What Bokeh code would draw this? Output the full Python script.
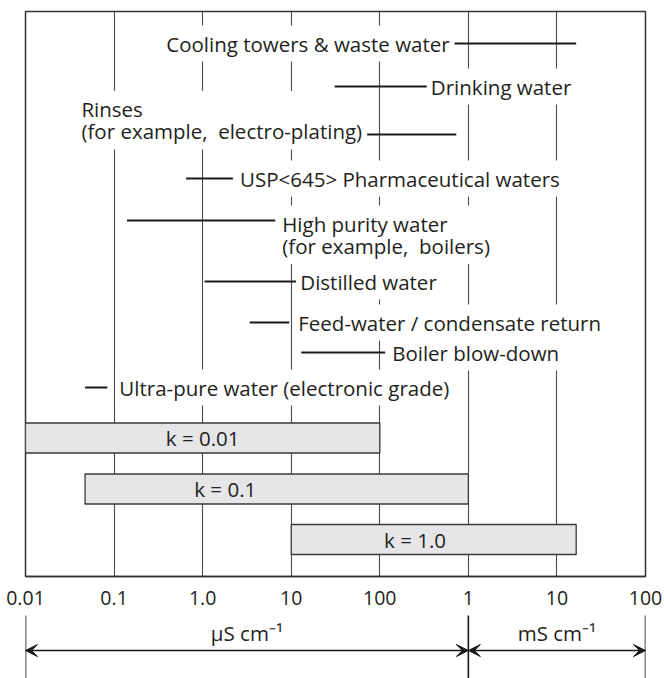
from bokeh.plotting import figure
from bokeh.models import Range1d, FixedTicker, Label, Arrow, VeeHead, ColumnDataSource
from bokeh.layouts import column
from bokeh.embed import file_html
from bokeh.resources import INLINE

# ---------------- data ----------------
applications = [
    "Cooling towers & waste water",
    "Drinking water",
    "Rinses\n(for example, \u00a0electro-plating)",
    "USP<645> Pharmaceutical waters",
    "High purity water\n(for example, \u00a0boilers)",
    "Distilled water",
    "Feed-water / condensate return",
    "Boiler blow-down",
    "Ultra-pure water (electronic grade)",
]
app_low = [700, 31, 72, 0.65, 0.14, 1.05, 3.4, 13, 0.047]      # µS/cm
app_high = [16500, 340, 730, 2.2, 6.6, 11.4, 9.5, 115, 0.084]  # µS/cm

cell_constants = ["k = 0.01", "k = 0.1", "k = 1.0"]
k_low = [0.01, 0.047, 10]
k_high = [100, 1000, 16500]

tick_values = [0.01, 0.1, 1, 10, 100, 1000, 10000, 100000]
tick_labels = ["0.01", "0.1", "1.0", "10", "100", "1", "10", "100"]

units = ["µS cm⁻¹", "mS cm⁻¹"]
unit_bounds = [0.01, 1000, 100000]

# ---------------- layout / style ----------------
FONT = "Open Sans"
FS = "20.5px"
TXT = "#231f20"
row_y = [32, 75, 123, 167, 209, 270, 311, 341, 376]
label_side = ["before", "after", "before", "after", "after", "after", "after", "after", "after"]
label_gap = [1, 0, 1, 3, 3, 0, 5, 3, 8]
bar_y = [426.5, 477.5, 528]
bar_h = 30
k_label_x = [1.0, 1.8, 250]

xr = Range1d(0.01, 100000)

p = figure(width=664, height=612, x_axis_type="log", x_range=xr,
           y_range=Range1d(565, 0), y_axis_location=None,
           output_backend="svg", toolbar_location=None,
           min_border_left=25, min_border_right=19, min_border_top=11,
           min_border_bottom=36)
p.outline_line_color = "#333333"
p.outline_line_width = 1.5
p.ygrid.visible = False
p.xgrid.ticker = FixedTicker(ticks=tick_values)
p.xgrid.grid_line_color = "#4a4a4a"
p.xgrid.grid_line_width = 1.1

ax = p.xaxis[0]
ax.ticker = FixedTicker(ticks=tick_values)
ov = {}
for v, t in zip(tick_values, tick_labels):
    ov[v] = t
    ov[str(v)] = t
ax.major_label_overrides = ov
ax.major_tick_line_color = None
ax.minor_tick_line_color = None
ax.axis_line_color = "#333333"
ax.axis_line_width = 1.5
ax.major_label_standoff = 8
ax.major_label_text_font = FONT
ax.major_label_text_font_size = "19.5px"
ax.major_label_text_color = TXT

# cell constant bars
bsrc = ColumnDataSource(dict(left=k_low, right=k_high, y=bar_y))
p.hbar(y="y", left="left", right="right", height=bar_h, source=bsrc,
       fill_color="#e6e6e8", line_color="#3a3a3a", line_width=1.3)
for name, lx, y in zip(cell_constants, k_label_x, bar_y):
    p.add_layout(Label(x=lx, y=y, text=name, anchor="center",
                       text_font=FONT, text_font_size=FS, text_color=TXT))

# application ranges
asrc = ColumnDataSource(dict(x0=app_low, x1=app_high, y=row_y))
p.segment(x0="x0", y0="y", x1="x1", y1="y", source=asrc,
          line_color="#1a1a1a", line_width=2)

for name, lo, hi, y, side, gap in zip(applications, app_low, app_high, row_y, label_side, label_gap):
    nlines = name.count("\n") + 1
    kw = dict(text=name, text_font=FONT, text_font_size=FS, text_color=TXT,
              background_fill_color="white", padding=4, text_align="left",
              text_line_height=0.8)
    if side == "before":
        if nlines == 1:
            lab = Label(x=lo, y=y, anchor="center_right", x_offset=-gap, **kw)
        else:
            lab = Label(x=lo, y=y, anchor="bottom_right", x_offset=-gap, y_offset=-15, **kw)
    else:
        if nlines == 1:
            lab = Label(x=hi, y=y, anchor="center_left", x_offset=gap, **kw)
        else:
            lab = Label(x=hi, y=y, anchor="top_left", x_offset=gap, y_offset=15, **kw)
    p.add_layout(lab)

# ---------------- unit arrows ----------------
q = figure(width=664, height=66, x_axis_type="log", x_range=xr,
           y_range=Range1d(0, 1), x_axis_location=None, y_axis_location=None,
           output_backend="svg", toolbar_location=None,
           min_border_left=25, min_border_right=19, min_border_top=0,
           min_border_bottom=0)
q.outline_line_color = None
q.grid.visible = False

for b in unit_bounds:
    q.add_layout(Arrow(x_start=b, x_end=b, y_start=0, y_end=0.955, start=None, end=None,
                       line_color="#1a1a1a", line_width=1.6))
for a, b, u in zip(unit_bounds[:-1], unit_bounds[1:], units):
    q.add_layout(Arrow(x_start=a, x_end=b, y_start=0.424, y_end=0.424,
                       start=VeeHead(size=12, fill_color="#1a1a1a", line_color="#1a1a1a"),
                       end=VeeHead(size=12, fill_color="#1a1a1a", line_color="#1a1a1a"),
                       line_color="#1a1a1a", line_width=1.3))
    q.add_layout(Label(x=(a * b) ** 0.5, y=0.682, text=u, anchor="center",
                       text_font=FONT, text_font_size=FS, text_color=TXT))

layout = column(p, q, spacing=0)
open("out.html", "w").write(file_html(layout, INLINE))
